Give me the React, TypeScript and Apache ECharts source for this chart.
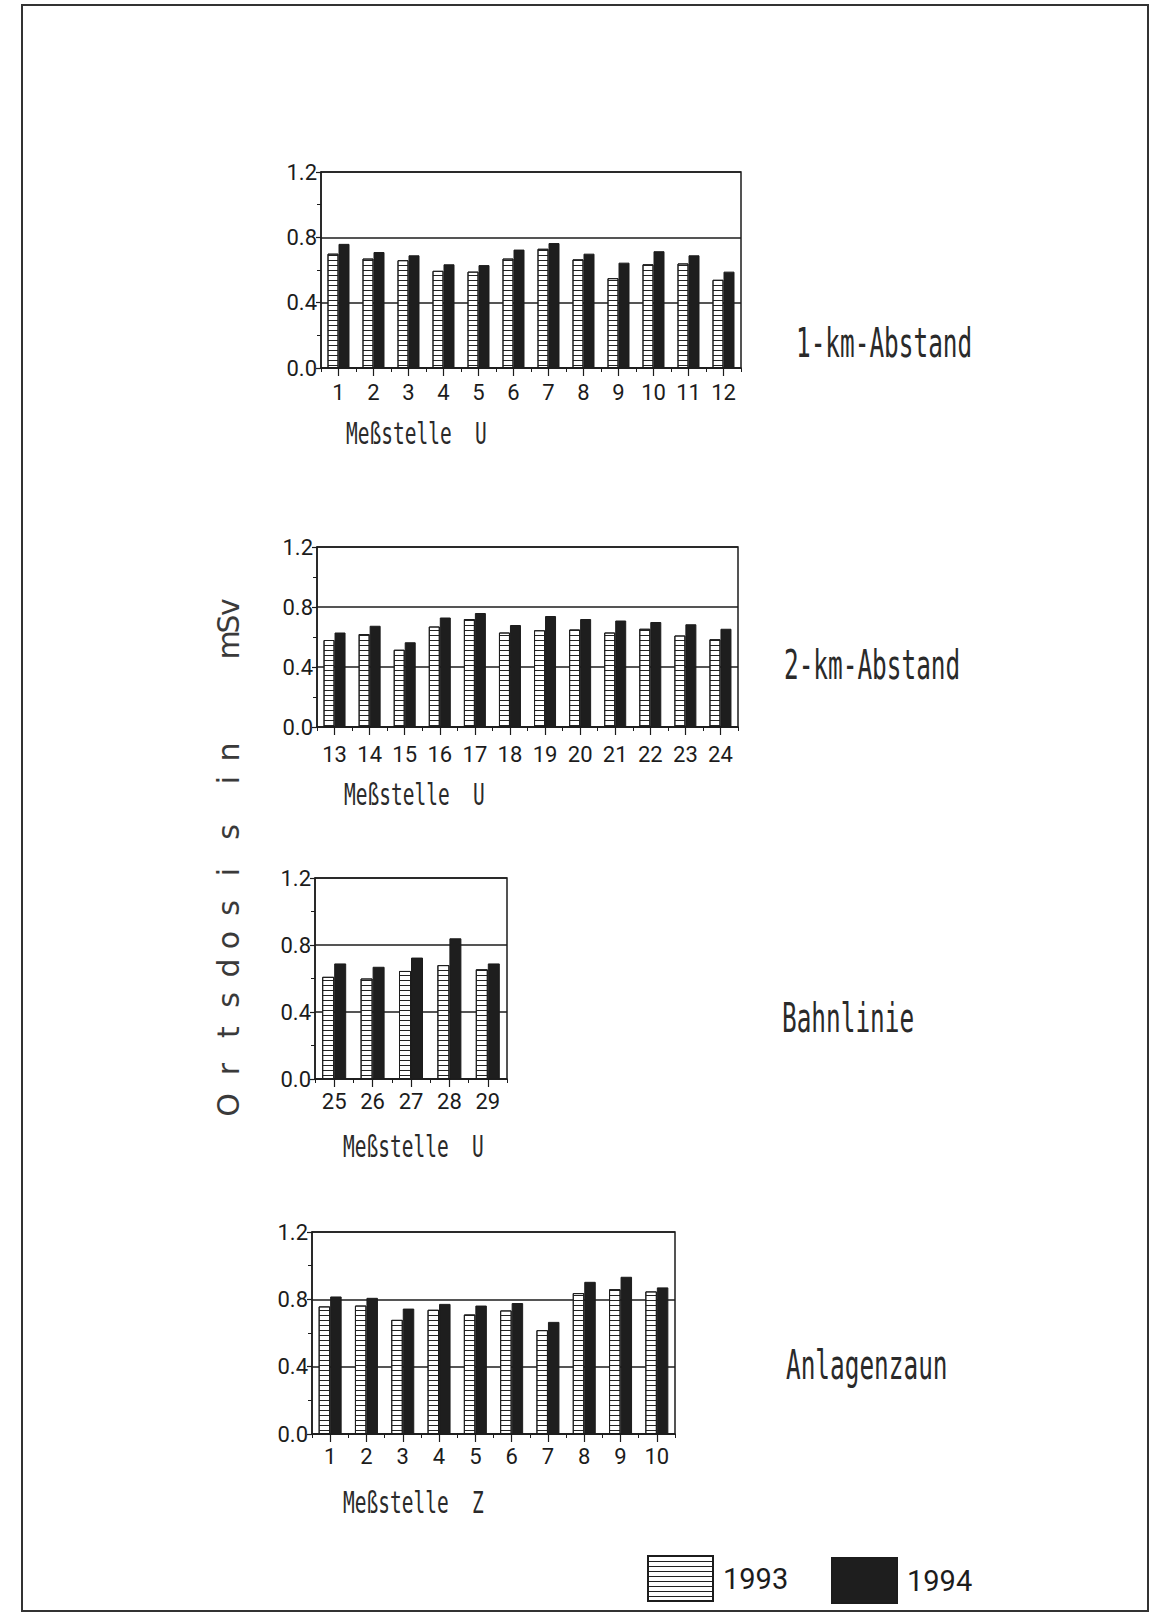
import React, { useEffect, useRef } from "react";
import * as echarts from "echarts";

// ---- data ----
const cats1 = ["1", "2", "3", "4", "5", "6", "7", "8", "9", "10", "11", "12"];
const v93_1 = [0.7, 0.67, 0.66, 0.595, 0.59, 0.67, 0.73, 0.665, 0.55, 0.635, 0.64, 0.54];
const v94_1 = [0.76, 0.71, 0.69, 0.635, 0.63, 0.725, 0.765, 0.7, 0.645, 0.715, 0.69, 0.59];

const cats2 = ["13", "14", "15", "16", "17", "18", "19", "20", "21", "22", "23", "24"];
const v93_2 = [0.58, 0.62, 0.515, 0.67, 0.72, 0.63, 0.645, 0.65, 0.63, 0.655, 0.61, 0.585];
const v94_2 = [0.63, 0.675, 0.565, 0.73, 0.76, 0.68, 0.74, 0.72, 0.71, 0.7, 0.685, 0.655];

const cats3 = ["25", "26", "27", "28", "29"];
const v93_3 = [0.61, 0.6, 0.645, 0.68, 0.655];
const v94_3 = [0.69, 0.67, 0.725, 0.84, 0.69];

const cats4 = ["1", "2", "3", "4", "5", "6", "7", "8", "9", "10"];
const v93_4 = [0.758, 0.763, 0.678, 0.738, 0.71, 0.734, 0.617, 0.837, 0.86, 0.847];
const v94_4 = [0.817, 0.809, 0.745, 0.773, 0.763, 0.778, 0.666, 0.904, 0.934, 0.871];

const panelTitles = ["1-km-Abstand", "2-km-Abstand", "Bahnlinie", "Anlagenzaun"];
const axisNames = ["Meßstelle  U", "Meßstelle  U", "Meßstelle  U", "Meßstelle  Z"];
const yTicks = [0, 0.4, 0.8, 1.2];
const seriesNames = ["1993", "1994"];
const yTitleChars = ["O", "r", "t", "s", "d", "o", "s", "i", "s", "i", "n", "m", "S", "v"];

// ---- layout ----
const LABEL_FONT = "Roboto, 'Liberation Sans', sans-serif";
const MONO = "'DejaVu Sans Mono', 'Liberation Mono', monospace";
const INK = "#1c1c1c";
const panels = [
  { grid: { left: 321, top: 172, width: 420, height: 196 }, bw: 11, margin: 13, cats: cats1, a: v93_1, b: v94_1 },
  { grid: { left: 317, top: 547, width: 421, height: 180 }, bw: 11, margin: 16, cats: cats2, a: v93_2, b: v94_2 },
  { grid: { left: 315, top: 878, width: 192, height: 201 }, bw: 12, margin: 11, cats: cats3, a: v93_3, b: v94_3 },
  { grid: { left: 312, top: 1232, width: 363, height: 202 }, bw: 11.5, margin: 11, cats: cats4, a: v93_4, b: v94_4 },
];
const titlePos = [
  [796, 343],
  [784, 665],
  [782, 1018],
  [786, 1365],
];
const namePos = [
  [346, 434],
  [344, 795],
  [343, 1147],
  [343, 1503],
];
const yTitleY = [1105, 1069, 1032, 1000, 968, 940, 908, 872, 832, 780, 752, 645, 624, 607];

const hatch = {
  symbol: "rect",
  symbolSize: 1,
  color: "#222222",
  dashArrayX: [1, 0],
  dashArrayY: [1, 4],
  rotation: 0,
};

export default function App() {
  const ref = useRef<HTMLDivElement>(null);

  useEffect(() => {
    document.body.style.margin = "0";
    if (!ref.current) return;
    const chart = echarts.init(ref.current, undefined, { renderer: "svg" });

    const grid: any[] = [];
    const xAxis: any[] = [];
    const yAxis: any[] = [];
    const series: any[] = [];

    panels.forEach((p, i) => {
      grid.push({ ...p.grid, show: true, borderColor: INK, borderWidth: 1.5, backgroundColor: "transparent" });
      xAxis.push({
        type: "category",
        gridIndex: i,
        data: p.cats,
        boundaryGap: true,
        axisLine: { show: true, lineStyle: { color: INK, width: 1.5 } },
        axisTick: { show: true, alignWithLabel: true, length: 8, lineStyle: { color: INK, width: 1.2 } },
        axisLabel: { color: INK, fontSize: 22, fontFamily: LABEL_FONT, margin: p.margin },
      });
      xAxis.push({
        type: "category",
        gridIndex: i,
        data: p.cats,
        boundaryGap: true,
        position: "bottom",
        axisLine: { show: false },
        axisTick: { show: true, length: 4, lineStyle: { color: INK, width: 1 } },
        axisLabel: { show: false },
      });
      yAxis.push({
        type: "value",
        gridIndex: i,
        min: 0,
        max: 1.2,
        interval: 0.4,
        axisLine: { show: true, lineStyle: { color: INK, width: 1.5 } },
        axisTick: { show: true, length: 5, lineStyle: { color: INK, width: 1.2 } },
        minorTick: { show: true, splitNumber: 2, length: 4, lineStyle: { color: INK, width: 1 } },
        splitLine: { show: true, lineStyle: { color: INK, width: 1.5 } },
        axisLabel: {
          color: INK,
          fontSize: 22,
          fontFamily: LABEL_FONT,
          margin: 4,
          formatter: (v: number) => (yTicks.some((t) => Math.abs(t - v) < 1e-6) ? v.toFixed(1) : ""),
        },
      });
      series.push({
        type: "bar",
        name: seriesNames[0],
        xAxisIndex: i * 2,
        yAxisIndex: i,
        data: p.a,
        barWidth: p.bw,
        barGap: "0%",
        itemStyle: { color: "#ffffff", borderColor: INK, borderWidth: 1, decal: hatch },
        emphasis: { disabled: true },
      });
      series.push({
        type: "bar",
        name: seriesNames[1],
        xAxisIndex: i * 2,
        yAxisIndex: i,
        data: p.b,
        barWidth: p.bw,
        barGap: "0%",
        itemStyle: { color: "#1e1e1e", borderColor: INK, borderWidth: 1 },
        emphasis: { disabled: true },
      });
    });

    const graphic: any[] = [
      {
        type: "rect",
        shape: { x: 22, y: 5, width: 1126, height: 1606 },
        style: { fill: "none", stroke: "#333", lineWidth: 2 },
        silent: true,
      },
    ];
    panelTitles.forEach((t, i) => {
      graphic.push({
        type: "text",
        x: titlePos[i][0],
        y: titlePos[i][1],
        scaleX: 0.61,
        style: { text: t, fill: "#2a2a2a", font: `40px ${MONO}`, align: "left", verticalAlign: "middle" },
      });
      graphic.push({
        type: "text",
        x: namePos[i][0],
        y: namePos[i][1],
        scaleX: 0.65,
        style: { text: axisNames[i], fill: "#2a2a2a", font: `30px ${MONO}`, align: "left", verticalAlign: "middle" },
      });
    });
    yTitleChars.forEach((c, i) => {
      graphic.push({
        type: "text",
        x: 228,
        y: yTitleY[i],
        rotation: Math.PI / 2,
        style: { text: c, fill: "#3a3a3a", font: "30px 'DejaVu Sans', sans-serif", align: "center", verticalAlign: "middle" },
      });
    });

    const legendBase = {
      orient: "horizontal",
      itemWidth: 65,
      itemHeight: 45,
      icon: "rect",
      selectedMode: false,
      textStyle: { color: INK, fontSize: 29, fontFamily: LABEL_FONT, padding: [0, 0, 0, 5] },
    };

    chart.setOption({
      animation: false,
      backgroundColor: "#ffffff",
      grid,
      xAxis,
      yAxis,
      series,
      legend: [
        { ...legendBase, data: [seriesNames[0]], left: 642, top: 1550 },
        { ...legendBase, data: [seriesNames[1]], left: 826, top: 1552 },
      ],
      graphic,
    });

    return () => chart.dispose();
  }, []);

  return <div ref={ref} style={{ width: 1151, height: 1615 }} />;
}
